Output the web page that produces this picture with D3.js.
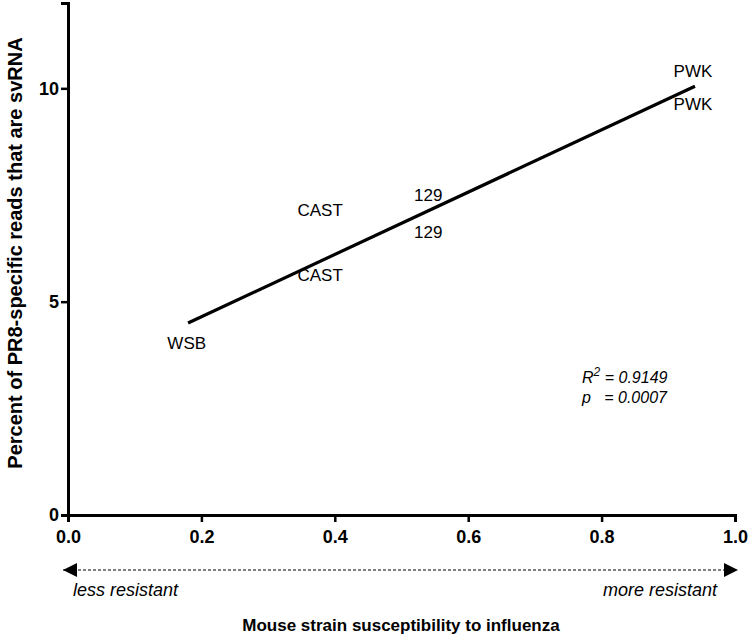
<!DOCTYPE html>
<html><head><meta charset="utf-8">
<script src="https://cdn.jsdelivr.net/npm/d3@7"></script>
<style>body{margin:0;background:#fff}svg{display:block}text{font-family:"Liberation Sans",Arial,sans-serif}</style>
</head><body><svg id="c" width="749" height="639"></svg>
<script>
const strains = ["WSB","CAST","CAST","129","129","PWK","PWK"];
const susceptibility = [0.178,0.378,0.378,0.540,0.540,0.937,0.937];
const svRNApercent = [4.03,7.15,5.62,7.50,6.63,10.41,9.63];
const fitX = [0.18,0.94];
const fitY = [4.50,10.05];
const xTicks = [0,0.2,0.4,0.6,0.8,1.0];
const yTicks = [0,5,10];

const svg = d3.select("#c");
const x = d3.scaleLinear().domain([0,1]).range([68,735]);
const y = d3.scaleLinear().domain([0,12]).range([515,3]);

const xa = svg.append("g").attr("transform","translate(0,515)")
  .call(d3.axisBottom(x).tickValues(xTicks).tickFormat(d3.format(".1f")).tickSizeOuter(0).tickSize(7));
const ya = svg.append("g").attr("transform","translate(68,0)")
  .call(d3.axisLeft(y).tickValues(yTicks).tickFormat(d3.format("d")).tickSizeOuter(0).tickSize(7));
[xa,ya].forEach(a=>{
  a.select(".domain").attr("stroke","#000").attr("stroke-width",3);
  a.selectAll(".tick line").attr("stroke","#000").attr("stroke-width",2.5);
  a.selectAll(".tick text").attr("font-family","Liberation Sans, Arial, sans-serif")
    .attr("font-size",18).attr("font-weight","bold").attr("fill","#000");
});
xa.selectAll(".tick text").attr("y",15).attr("dy","0.71em");
ya.selectAll(".tick text").attr("x",-9);

// regression line
svg.append("line")
  .attr("x1",x(fitX[0])).attr("y1",y(fitY[0]))
  .attr("x2",x(fitX[1])).attr("y2",y(fitY[1]))
  .attr("stroke","#000").attr("stroke-width",3.2);

// point labels
svg.selectAll("text.pt").data(strains).join("text").attr("class","pt")
  .attr("x",(d,i)=>x(susceptibility[i])).attr("y",(d,i)=>y(svRNApercent[i]))
  .attr("text-anchor","middle").attr("dy","0.36em")
  .attr("font-size",17).attr("fill","#000").text(d=>d);

// stats
const st = svg.append("g").attr("font-style","italic").attr("font-size",16);
const t1 = st.append("text").attr("x",582).attr("y",383);
t1.append("tspan").text("R");
t1.append("tspan").attr("font-size",12).attr("dy",-7).text("2");
t1.append("tspan").attr("dy",7).text(" = 0.9149");
st.append("text").attr("x",582).attr("y",403).attr("xml:space","preserve").text("p   = 0.0007");

// arrow
const defs = svg.append("defs");
defs.append("marker").attr("id","ah").attr("viewBox","0 0 10 10").attr("refX",10).attr("refY",5)
  .attr("markerWidth",16).attr("markerHeight",14).attr("markerUnits","userSpaceOnUse").attr("orient","auto-start-reverse")
  .append("path").attr("d","M0,0L10,5L0,10Z").attr("fill","#000");
svg.append("line").attr("x1",x(0)-5).attr("x2",x(1)+3).attr("y1",570).attr("y2",570)
  .attr("stroke","#000").attr("stroke-width",1).attr("stroke-dasharray","3,2")
  .attr("marker-start","url(#ah)").attr("marker-end","url(#ah)");
svg.append("text").attr("x",73).attr("y",596).attr("font-size",18).attr("font-style","italic").text("less resistant");
svg.append("text").attr("x",717).attr("y",596).attr("text-anchor","end").attr("font-size",18).attr("font-style","italic").text("more resistant");

// axis titles
svg.append("text").attr("x",401).attr("y",631).attr("text-anchor","middle")
  .attr("font-size",17).attr("font-weight","bold").text("Mouse strain susceptibility to influenza");
svg.append("text").attr("transform","translate(22,253) rotate(-90)").attr("text-anchor","middle")
  .attr("font-size",20).attr("font-weight","bold").text("Percent of PR8-specific reads that are svRNA");
</script></body></html>
